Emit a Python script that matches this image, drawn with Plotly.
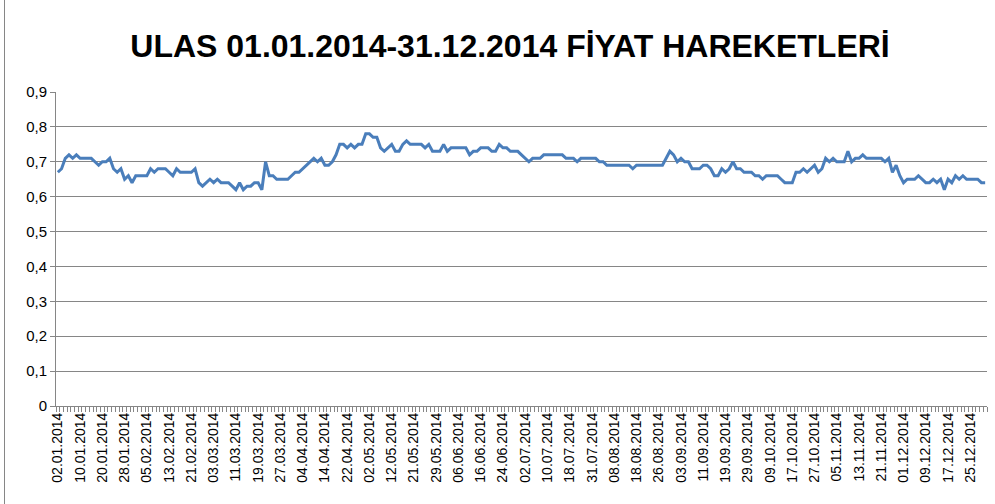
import pandas as pd
import plotly.graph_objects as go

# Trading days of Borsa Istanbul in 2014 (categories)
holidays = ["2014-01-01", "2014-04-23", "2014-05-01", "2014-05-19",
            "2014-07-28", "2014-07-29", "2014-07-30",
            "2014-10-06", "2014-10-07", "2014-10-29"]
days = [d for d in pd.bdate_range("2014-01-02", "2014-12-31")
        if d.strftime("%Y-%m-%d") not in holidays]
dates = [d.strftime("%d.%m.%Y") for d in days]

# Closing prices
prices = [
    .67, .68, .71, .72, .71, .72, .71, .71, .71, .71,
    .70, .69, .70, .70, .71, .68, .67, .68, .65, .66,
    .64, .66, .66, .66,
    .66, .68, .67, .68, .68, .68, .67,
    .66, .68, .67, .67, .67, .67, .68, .64, .63, .64,
    .65, .64, .65, .64, .64, .64, .63, .62, .64, .62,
    .63, .63, .64, .64, .62, .70, .66, .66, .65, .65, .65,
    .65, .66, .67, .67, .68, .69, .70, .71, .70, .71,
    .69, .69, .70, .72, .75, .75, .74, .75, .74, .75,
    .75, .78, .78, .77, .77, .74, .73, .74, .75, .73,
    .73, .75, .76, .75, .75, .75, .75, .74, .75, .73,
    .73, .73, .75, .73, .74, .74, .74,
    .74, .74, .72, .73,
    .73, .74, .74, .74, .73, .73, .75, .74, .74, .73,
    .73, .73, .72, .71, .70, .71, .71, .71, .72, .72,
    .72, .72, .72, .72, .71, .71, .71, .70, .71, .71,
    .71, .71, .71, .70, .70, .69, .69, .69, .69,
    .69, .69,
    .69, .68, .69, .69, .69, .69, .69, .69, .69, .69,
    .71, .73, .72, .70, .71, .70, .70, .68, .68, .68,
    .69, .69, .68, .66, .66, .68, .67, .68, .70, .68,
    .68, .67, .67, .67, .66, .66, .65, .66, .66, .66,
    .66,
    .65, .64, .64, .64, .67, .67, .68, .67, .68, .69,
    .67, .68, .71, .70, .71, .70, .70, .70, .73, .70,
    .71, .71, .72, .71, .71, .71, .71, .71, .70, .71,
    .67, .69, .66, .64, .65, .65,
    .65, .66, .65, .64, .64,
    .65, .64, .65, .62, .65, .64, .66, .65, .66, .65,
    .65, .65, .65, .64, .64,
]

tick_text = [d if i % 6 == 0 else "" for i, d in enumerate(dates)]
y_ticks = [0, 0.1, 0.2, 0.3, 0.4, 0.5, 0.6, 0.7, 0.8, 0.9]

W, H = 995, 504
ML, MR, MT, MB = 56, 8, 92, 98

fig = go.Figure()
fig.add_trace(go.Scatter(
    x=dates[:len(prices)], y=prices, mode="lines",
    line=dict(color="#4A7EBB", width=3),
    hoverinfo="x+y", showlegend=False,
))

fig.update_layout(
    width=W, height=H,
    margin=dict(l=ML, r=MR, t=MT, b=MB, autoexpand=False),
    paper_bgcolor="white", plot_bgcolor="white",
    separators=",.",
    font=dict(family="Liberation Sans, Arial, sans-serif", size=14, color="#000000"),
    title=dict(
        text="<b>ULAS 01.01.2014-31.12.2014 FİYAT HAREKETLERİ</b>",
        x=510 / W, xanchor="center", xref="container",
        y=1 - 46 / H, yanchor="middle", yref="container",
        font=dict(family="Liberation Sans, Arial, sans-serif", size=32, color="#000000"),
    ),
    xaxis=dict(
        type="category",
        categoryorder="array", categoryarray=dates,
        range=[-0.5, len(dates) - 0.5],
        tickmode="array", tickvals=dates, ticktext=tick_text,
        tickangle=-90, tickson="boundaries",
        ticks="outside", ticklen=5, tickcolor="#868686", tickwidth=1,
        showline=True, linecolor="#868686", linewidth=1,
        showgrid=False, zeroline=False,
        tickfont=dict(size=14),
    ),
    yaxis=dict(
        range=[0, 0.9], tickmode="array", tickvals=y_ticks,
        ticks="outside", ticklen=5, tickcolor="#868686",
        showline=True, linecolor="#868686", linewidth=1,
        showgrid=True, gridcolor="#868686", gridwidth=1,
        zeroline=False, tickfont=dict(size=15),
    ),
)

# chart-area left border
fig.add_shape(type="line", xref="paper", yref="paper",
              x0=-(ML - 4.5) / (W - ML - MR), x1=-(ML - 4.5) / (W - ML - MR),
              y0=-MB / (H - MT - MB), y1=(H - MT) / (H - MT - MB) - 2 / (H - MT - MB),
              line=dict(color="#868686", width=1))

fig.write_html("out.html", config={"displayModeBar": False},
               post_script="document.body.style.margin='0';document.body.style.overflow='hidden';")
